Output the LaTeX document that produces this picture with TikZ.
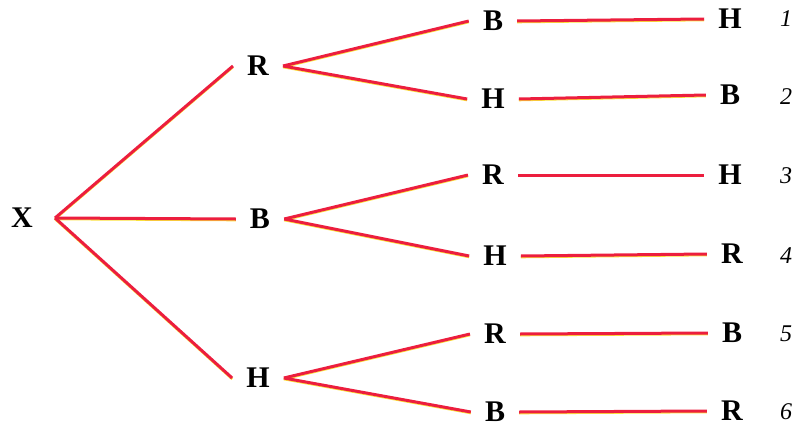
\documentclass[tikz,border=0pt]{standalone}
\usepackage{fontspec}
\setmainfont{Liberation Serif}
\definecolor{treered}{RGB}{236,30,62}
\definecolor{fringe}{RGB}{250,225,60}
\begin{document}
\begin{tikzpicture}[x=1pt,y=-1pt,
  lbl/.style={font=\fontsize{30}{30}\selectfont\bfseries, inner xsep=14pt, inner ysep=0pt},
  num/.style={font=\fontsize{24}{24}\selectfont\itshape, inner sep=0pt},
  branch/.style={draw=treered, line width=3pt,
    preaction={draw=fringe, line width=2.2pt, transform canvas={yshift=-1.2pt}}}]
\useasboundingbox (0,0) rectangle (795,428);
% level 1
\node[lbl, inner xsep=22pt] (X) at (22,218) {X};
% level 2
\node[lbl] (R2) at (258,66) {R};
\node[lbl] (B2) at (260,219) {B};
\node[lbl] (H2) at (258,378) {H};
% level 3
\node[lbl] (B3a) at (493,21) {B};
\node[lbl] (H3a) at (493,99) {H};
\node[lbl] (R3b) at (493,175) {R};
\node[lbl] (H3b) at (495,256) {H};
\node[lbl] (R3c) at (495,334) {R};
\node[lbl] (B3c) at (495,412) {B};
% level 4
\node[lbl] (H4a) at (730,19) {H};
\node[lbl] (B4a) at (730,95) {B};
\node[lbl] (H4b) at (730,175) {H};
\node[lbl] (R4b) at (732,254) {R};
\node[lbl] (B4c) at (732,333) {B};
\node[lbl] (R4c) at (732,411) {R};
% numbers
\node[num] (n1) at (786,19) {1};
\node[num] (n2) at (786,97) {2};
\node[num] (n3) at (786,176) {3};
\node[num] (n4) at (786,256) {4};
\node[num] (n5) at (786,334) {5};
\node[num] (n6) at (786,412) {6};
% connectors
\draw[branch] (X.east) -- (R2.west);
\draw[branch] (X.east) -- (B2.west);
\draw[branch] (X.east) -- (H2.west);
\draw[branch] (R2.east) -- (B3a.west);
\draw[branch] (R2.east) -- (H3a.west);
\draw[branch] (B2.east) -- (R3b.west);
\draw[branch] (B2.east) -- (H3b.west);
\draw[branch] (H2.east) -- (R3c.west);
\draw[branch] (H2.east) -- (B3c.west);
\draw[branch] (B3a.east) -- (H4a.west);
\draw[branch] (H3a.east) -- (B4a.west);
\draw[branch] (R3b.east) -- (H4b.west);
\draw[branch] (H3b.east) -- (R4b.west);
\draw[branch] (R3c.east) -- (B4c.west);
\draw[branch] (B3c.east) -- (R4c.west);
\end{tikzpicture}
\end{document}
